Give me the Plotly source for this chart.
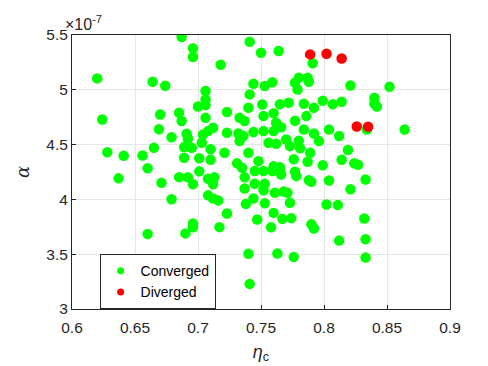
import plotly.graph_objects as go

# efficiency eta_c and alpha (units of 1e-7)
eta_conv = [
    0.687, 0.696, 0.696, 0.620, 0.664, 0.674, 0.741, 0.750, 0.764, 0.718,
    0.791, 0.706, 0.706, 0.706, 0.700, 0.744, 0.753, 0.759, 0.741, 0.780,
    0.787, 0.779, 0.788, 0.777, 0.751, 0.740, 0.765, 0.772, 0.784, 0.792,
    0.799, 0.807, 0.814, 0.821, 0.852, 0.840, 0.840, 0.842,
    0.723, 0.706, 0.733, 0.737, 0.752, 0.760, 0.762, 0.766, 0.777, 0.786,
    0.712, 0.708, 0.704, 0.723, 0.732, 0.736, 0.744, 0.752, 0.760, 0.784,
    0.792, 0.796, 0.804, 0.812, 0.703, 0.710, 0.701, 0.710, 0.721, 0.733,
    0.740, 0.756, 0.762, 0.770, 0.773, 0.780, 0.781, 0.789, 0.787, 0.776,
    0.748, 0.731, 0.799, 0.814, 0.760, 0.765, 0.819, 0.824, 0.827, 0.834,
    0.864,
    0.624, 0.670, 0.685, 0.687, 0.669, 0.679, 0.691, 0.692, 0.689, 0.695,
    0.628, 0.641, 0.656, 0.665, 0.689, 0.660,
    0.637, 0.671, 0.685, 0.692, 0.696, 0.701, 0.679, 0.696, 0.696, 0.690,
    0.660, 0.708, 0.713, 0.712, 0.708, 0.712, 0.716, 0.723, 0.717, 0.735,
    0.737, 0.737, 0.738, 0.744, 0.747, 0.740, 0.741, 0.745, 0.745, 0.752,
    0.753, 0.752, 0.761, 0.753, 0.768, 0.771, 0.760, 0.773, 0.767, 0.774,
    0.758, 0.765, 0.766, 0.759, 0.777, 0.778, 0.788, 0.790, 0.804, 0.802,
    0.811, 0.790, 0.792, 0.812, 0.763, 0.776, 0.821, 0.833, 0.832, 0.833,
    0.833,
]
alpha_conv = [
    5.482, 5.378, 5.299, 5.104, 5.074, 5.037, 5.439, 5.338, 5.354, 5.229,
    5.242, 4.989, 4.912, 4.861, 4.848, 5.055, 5.034, 5.069, 4.958, 5.110,
    5.110, 5.003, 5.074, 5.064, 4.866, 4.836, 4.868, 4.882, 4.873, 4.836,
    4.900, 4.868, 4.891, 5.040, 5.028, 4.927, 4.873, 4.848,
    4.797, 4.745, 4.745, 4.715, 4.760, 4.786, 4.699, 4.658, 4.717, 4.760,
    4.653, 4.623, 4.592, 4.608, 4.601, 4.578, 4.614, 4.623, 4.623, 4.638,
    4.601, 4.532, 4.638, 4.578, 4.517, 4.457, 4.375, 4.361, 4.425, 4.532,
    4.425, 4.517, 4.507, 4.547, 4.486, 4.535, 4.466, 4.425, 4.343, 4.366,
    4.349, 4.329, 4.311, 4.361, 4.302, 4.293, 4.450, 4.329, 4.316, 4.638,
    4.638,
    4.729, 4.775, 4.790, 4.715, 4.640, 4.567, 4.599, 4.556, 4.477, 4.471,
    4.430, 4.398, 4.401, 4.471, 4.380, 4.284,
    4.192, 4.151, 4.203, 4.201, 4.138, 4.256, 4.002, 3.781, 3.745, 3.690,
    3.685, 4.188, 4.201, 4.138, 4.037, 4.008, 3.991, 3.871, 3.747, 4.288,
    4.201, 4.099, 3.959, 4.008, 3.816, 3.503, 3.229, 4.258, 4.142, 4.258,
    4.142, 4.083, 4.060, 3.964, 4.071, 4.060, 3.877, 3.969, 3.822, 3.829,
    3.745, 4.273, 4.227, 4.258, 4.252, 4.212, 4.174, 4.160, 4.172, 3.953,
    3.948, 3.774, 3.734, 3.624, 3.507, 3.475, 4.092, 4.181, 3.825, 3.637,
    3.469,
]
eta_div = [0.789, 0.802, 0.814, 0.826, 0.835]
alpha_div = [5.323, 5.329, 5.286, 4.665, 4.663]

x_ticks = [0.6, 0.65, 0.7, 0.75, 0.8, 0.85, 0.9]
y_ticks = [3, 3.5, 4, 4.5, 5, 5.5]

FONT = "Liberation Sans, Arial, Helvetica, sans-serif"
TXT = "#262626"

fig = go.Figure()

fig.add_trace(go.Scatter(
    x=eta_conv, y=alpha_conv, mode="markers", showlegend=False,
    marker=dict(color="#00ff00", size=10.5, line=dict(width=0)),
))
fig.add_trace(go.Scatter(
    x=eta_div, y=alpha_div, mode="markers", showlegend=False,
    marker=dict(color="#ff0000", size=10.5, line=dict(width=0)),
))

# legend-only traces, smaller markers like the reference
fig.add_trace(go.Scatter(x=[None], y=[None], mode="markers", name="Converged",
                         marker=dict(color="#00ff00", size=7)))
fig.add_trace(go.Scatter(x=[None], y=[None], mode="markers", name="Diverged",
                         marker=dict(color="#ff0000", size=7)))

axis_common = dict(
    showgrid=True, gridcolor="#e6e6e6", gridwidth=1,
    zeroline=False, showline=True, linecolor=TXT, linewidth=1,
    mirror=True, ticks="inside", ticklen=4, tickcolor=TXT,
    tickfont=dict(family=FONT, size=15.5, color=TXT),
)

fig.update_xaxes(range=[0.6, 0.9], tickvals=x_ticks,
                 ticktext=[f"{v:g}" for v in x_ticks],
                 ticklabelstandoff=4,
                 title=dict(text="<i>η</i><sub>c</sub>",
                            font=dict(family=FONT, size=18, color=TXT),
                            standoff=10),
                 **axis_common)
fig.update_yaxes(range=[3, 5.5], tickvals=y_ticks,
                 ticktext=[f"{v:g}" for v in y_ticks],
                 title=dict(text="<i>α</i>",
                            font=dict(family="DejaVu Serif", size=18, color=TXT),
                            standoff=12),
                 **axis_common)

fig.add_annotation(
    text="×10<sup>-7</sup>", xref="paper", yref="paper", x=0, y=1,
    xanchor="left", yanchor="bottom", showarrow=False, xshift=-9, yshift=0,
    font=dict(family=FONT, size=16, color=TXT),
)

fig.update_layout(
    width=488, height=366,
    margin=dict(l=63.5, r=46.3, t=27.3, b=65),
    paper_bgcolor="white", plot_bgcolor="white",
    legend=dict(x=0.073, y=0.2, xanchor="left", yanchor="top",
                bgcolor="white", bordercolor=TXT, borderwidth=1,
                font=dict(family=FONT, size=14, color="black"),
                itemwidth=30, tracegroupgap=0),
)

fig.write_html("out.html")
